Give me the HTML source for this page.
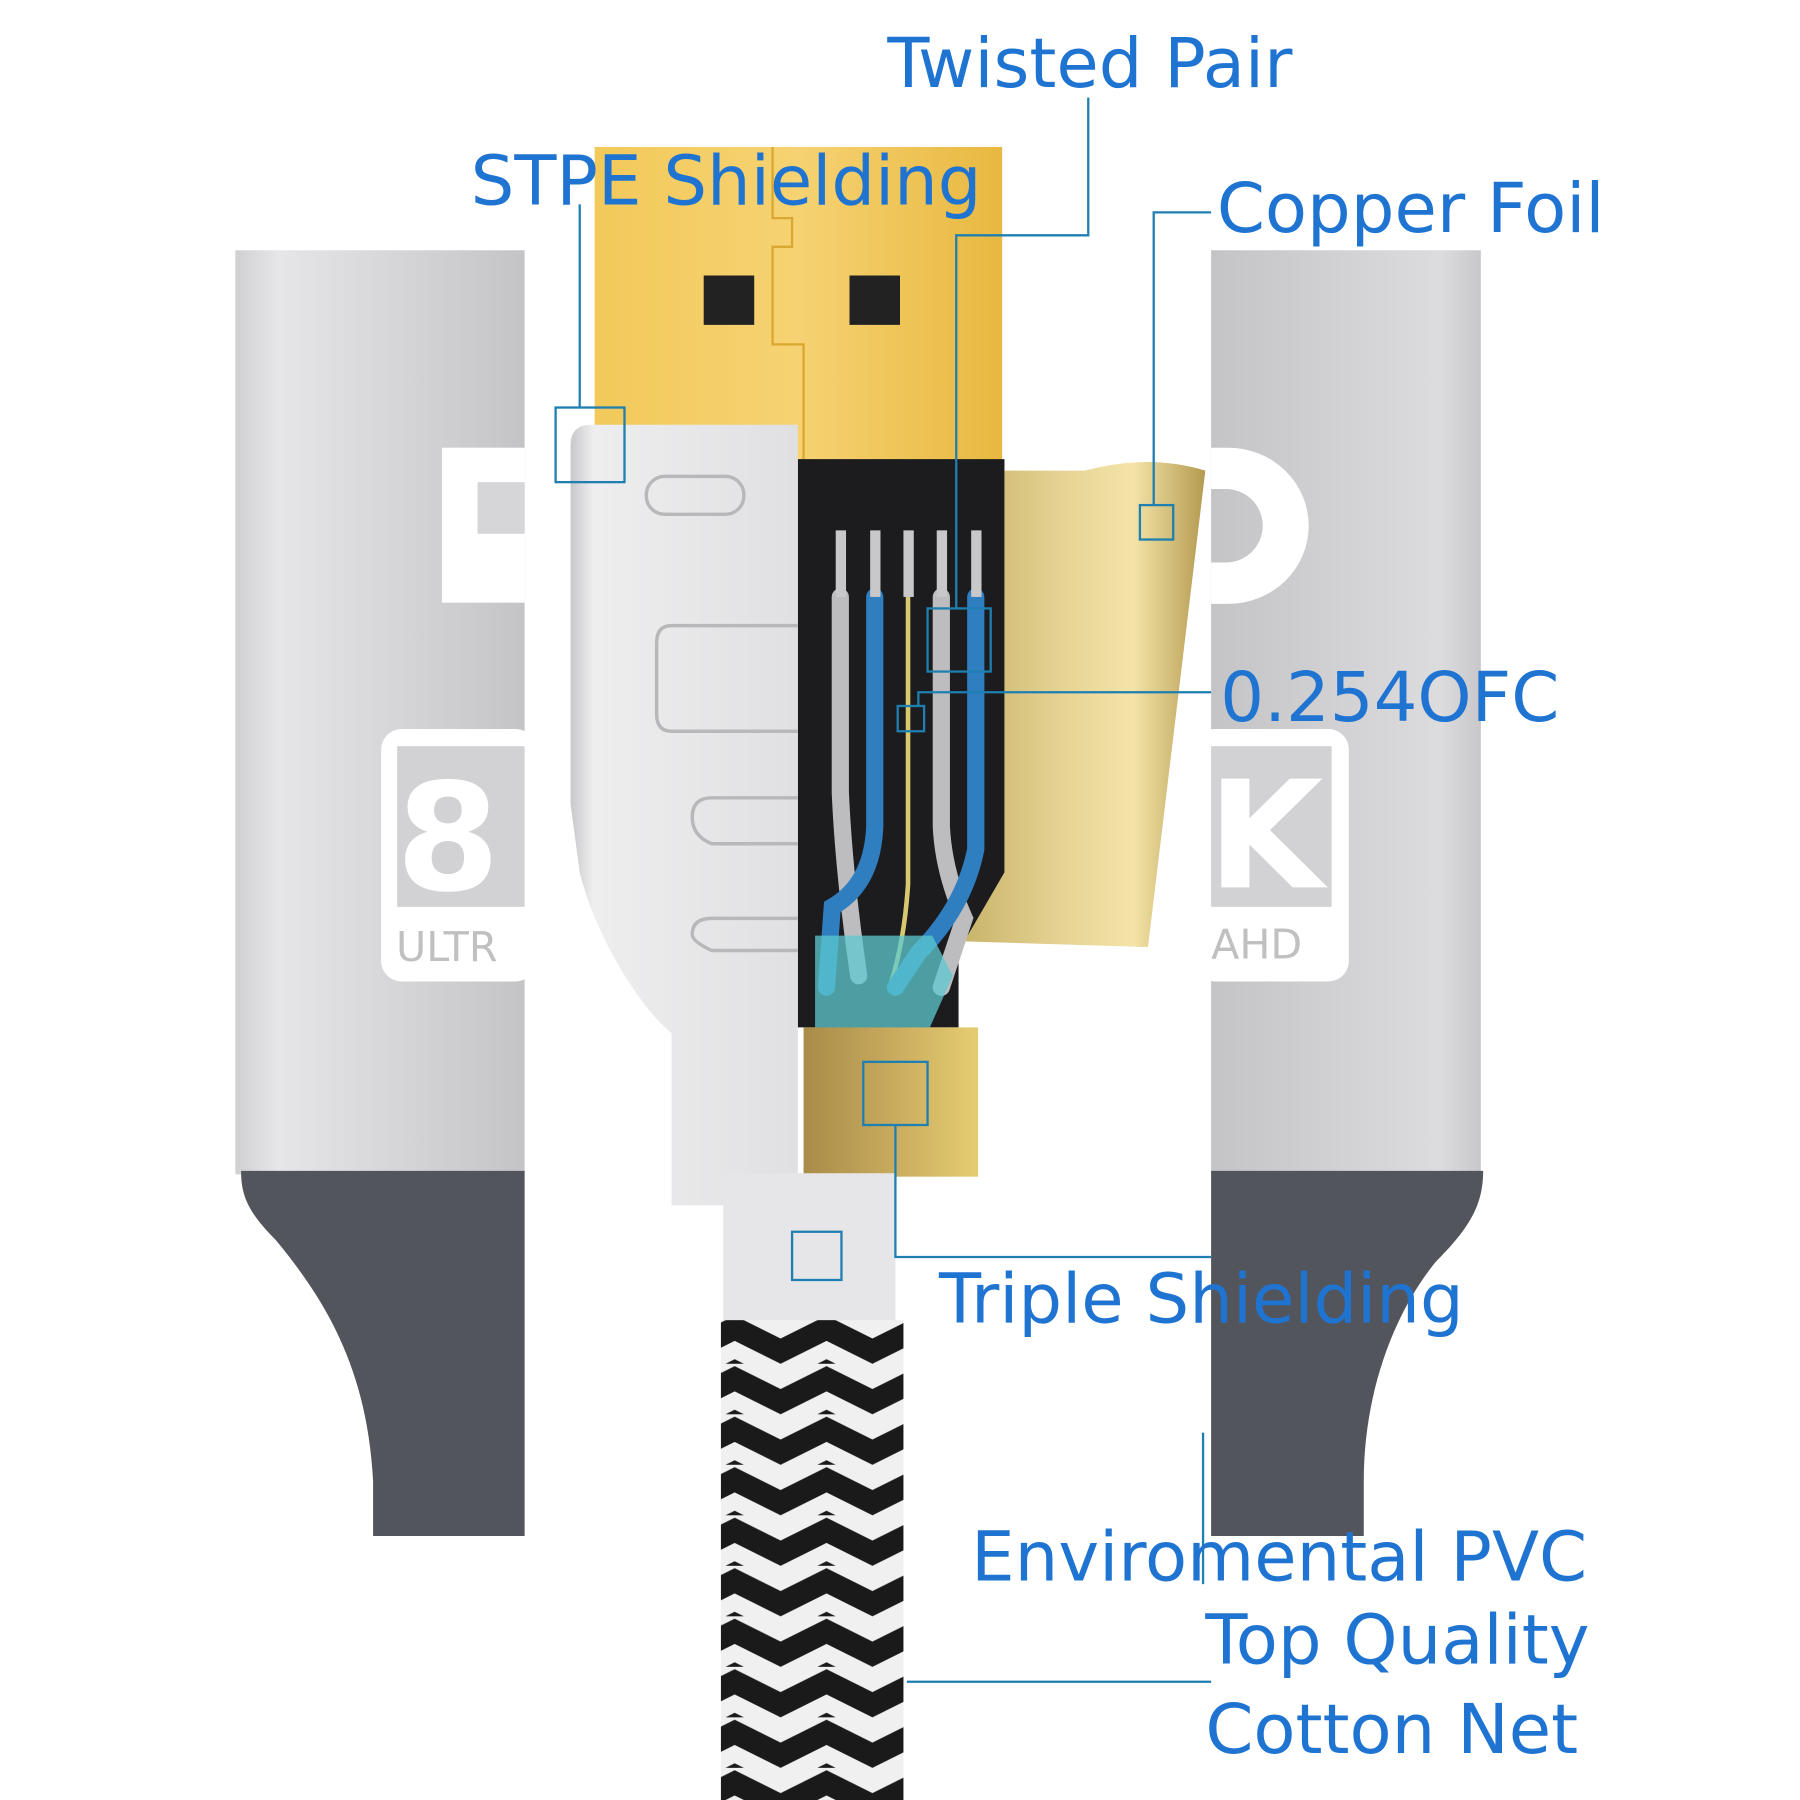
<!DOCTYPE html>
<html><head><meta charset="utf-8"><style>
html,body{margin:0;padding:0;background:#fff;width:1800px;height:1800px;overflow:hidden}
svg{display:block}
text{font-family:"DejaVu Sans","Liberation Sans",sans-serif;fill:#1f74d2}
</style></head><body>
<svg width="1800" height="1800" viewBox="0 0 1568 1568" xmlns="http://www.w3.org/2000/svg">
<defs>
<linearGradient id="gl" x1="0" x2="1"><stop offset="0" stop-color="#d0d0d2"/><stop offset="0.15" stop-color="#e6e6e8"/><stop offset="1" stop-color="#c4c4c6"/></linearGradient>
<linearGradient id="gr" x1="0" x2="1"><stop offset="0" stop-color="#c4c4c6"/><stop offset="0.85" stop-color="#dcdcde"/><stop offset="1" stop-color="#c8c8ca"/></linearGradient>
<linearGradient id="gold" x1="0" x2="1"><stop offset="0" stop-color="#f2c95a"/><stop offset="0.5" stop-color="#f6d272"/><stop offset="1" stop-color="#e8b840"/></linearGradient>
<linearGradient id="foil" x1="0" x2="1"><stop offset="0" stop-color="#c8b46a"/><stop offset="0.4" stop-color="#e6d394"/><stop offset="0.7" stop-color="#f4e4a8"/><stop offset="1" stop-color="#b49a50"/></linearGradient>
<linearGradient id="silver" x1="0" x2="1"><stop offset="0" stop-color="#c8c8ca"/><stop offset="0.1" stop-color="#eeeeef"/><stop offset="1" stop-color="#e0e0e2"/></linearGradient>
<linearGradient id="gb" x1="0" x2="1"><stop offset="0" stop-color="#a88c48"/><stop offset="0.5" stop-color="#c8aa5e"/><stop offset="1" stop-color="#e6cc70"/></linearGradient>
<pattern id="braid" width="80" height="44" patternUnits="userSpaceOnUse">
<rect width="80" height="44" fill="#f0f0f0"/>
<path d="M0 2 L40 22 L80 2 L80 24 L40 44 L0 24Z" fill="#1a1a1a"/>
<path d="M0 44 L0 40 L8 44Z M80 44 L80 40 L72 44Z" fill="#1a1a1a"/>
</pattern>
</defs>
<rect width="1568" height="1568" fill="#fff"/>
<rect x="205" y="218" width="252" height="805" fill="url(#gl)"/>
<path d="M210 1020 L457 1020 L457 1338 L325 1338 L325 1290 C320 1200 290 1140 240 1080 C215 1055 210 1040 210 1020Z" fill="#52565c"/>
<rect x="385" y="390" width="72" height="135" fill="#fff"/>
<rect x="416" y="420" width="41" height="45" fill="#d6d6d8"/>
<rect x="332" y="635" width="135" height="220" rx="18" fill="#fff"/>
<rect x="346" y="650" width="111" height="140" fill="#d2d2d4"/>
<text x="345" y="775" font-size="130" font-weight="bold" style="fill:#fff">8</text>
<text x="345" y="837" font-size="36" style="fill:#c0c0c0">ULTR</text>
<rect x="1055" y="218" width="235" height="805" fill="url(#gr)"/>
<path d="M1055 1020 L1292 1020 C1292 1050 1280 1070 1250 1100 C1210 1150 1188 1220 1188 1290 L1188 1338 L1055 1338Z" fill="#52565c"/>
<path d="M1055 390 L1070 390 A70 68 0 0 1 1070 526 L1055 526 L1055 490 L1068 490 A32 32 0 0 0 1068 426 L1055 426Z" fill="#fff"/>
<rect x="1040" y="635" width="135" height="220" rx="18" fill="#fff"/>
<rect x="1055" y="650" width="105" height="140" fill="#d2d2d4"/>
<text x="1052" y="773" font-size="130" font-weight="bold" style="fill:#fff">K</text>
<text x="1055" y="835" font-size="36" style="fill:#c0c0c0">AHD</text>
<rect x="518" y="128" width="355" height="275" fill="url(#gold)"/>
<path d="M673 128 L673 190 L690 190 L690 215 L673 215 L673 300 L700 300 L700 400" fill="none" stroke="#d9a830" stroke-width="2"/>
<rect x="613" y="240" width="44" height="43" fill="#222"/>
<rect x="740" y="240" width="44" height="43" fill="#222"/>
<path d="M695 400 L875 400 L875 760 L835 830 L835 895 L695 895Z" fill="#1c1c1e"/>
<path d="M875 410 L945 410 Q1000 395 1050 410 L1000 825 L840 820 L875 760Z" fill="url(#foil)"/>
<g fill="none" stroke-linecap="round">
<path d="M732 520 L732 690 Q735 760 748 850" stroke="#bdbdbf" stroke-width="15"/>
<path d="M762 520 L762 720 Q760 770 725 790 L720 860" stroke="#2f7ec0" stroke-width="15"/>
<path d="M791 515 L791 770 Q788 820 775 860" stroke="#d8c870" stroke-width="4"/>
<path d="M820 520 L820 720 Q822 760 840 800 L820 860" stroke="#bdbdbf" stroke-width="15"/>
<path d="M850 520 L850 740 Q840 790 800 830 L780 860" stroke="#2f7ec0" stroke-width="15"/>
</g>
<g fill="#c8c8ca"><rect x="728" y="462" width="9" height="58"/><rect x="758" y="462" width="9" height="58"/><rect x="787" y="462" width="9" height="58"/><rect x="816" y="462" width="9" height="58"/><rect x="846" y="462" width="9" height="58"/></g>
<path d="M710 815 L812 815 L830 850 L810 895 L710 895Z" fill="#5ccad0" opacity="0.75"/>
<path d="M515 370 L695 370 L695 1050 L585 1050 L585 900 C560 880 520 820 505 760 L497 700 L497 388 Q497 370 515 370Z" fill="url(#silver)"/>
<rect x="563" y="415" width="85" height="33" rx="16" fill="none" stroke="#b8b8ba" stroke-width="3"/>
<path d="M695 545 L585 545 Q572 545 572 560 L572 622 Q572 637 585 637 L695 637" fill="none" stroke="#b8b8ba" stroke-width="3"/>
<path d="M695 735 L620 735 Q603 728 603 712 Q603 695 620 695 L695 695" fill="none" stroke="#b8b8ba" stroke-width="3"/>
<path d="M695 828 L620 828 Q603 820 603 814 Q603 800 620 800 L695 800" fill="none" stroke="#b8b8ba" stroke-width="3"/>
<rect x="700" y="895" width="152" height="130" fill="url(#gb)"/>
<rect x="630" y="1022" width="150" height="130" fill="#e6e6e8"/>
<rect x="628" y="1150" width="159" height="418" fill="url(#braid)"/>
<g fill="none" stroke="#1e7fb0" stroke-width="2">
<path d="M948 85 L948 205 L833 205 L833 530"/>
<rect x="808" y="530" width="55" height="55"/>
<path d="M505 178 L505 355"/>
<rect x="484" y="355" width="60" height="65"/>
<path d="M1055 185 L1005 185 L1005 440"/>
<rect x="993" y="440" width="29" height="30"/>
<path d="M1055 603 L800 603 L800 615"/>
<rect x="782" y="615" width="23" height="22"/>
<rect x="752" y="925" width="56" height="55"/>
<path d="M780 980 L780 1095 L1055 1095"/>
<rect x="690" y="1073" width="43" height="42"/>
<path d="M1048 1248 L1048 1380"/>
<path d="M790 1465 L1055 1465"/>
</g>
<g font-size="60">
<text x="773" y="76">Twisted Pair</text>
<text x="410" y="178">STPE Shielding</text>
<text x="1060" y="202">Copper Foil</text>
<text x="1063" y="628">0.254OFC</text>
<text x="818" y="1152">Triple Shielding</text>
<text x="846" y="1377">Enviromental PVC</text>
<text x="1050" y="1449">Top Quality</text>
<text x="1050" y="1527">Cotton Net</text>
</g>
</svg>
</body></html>
